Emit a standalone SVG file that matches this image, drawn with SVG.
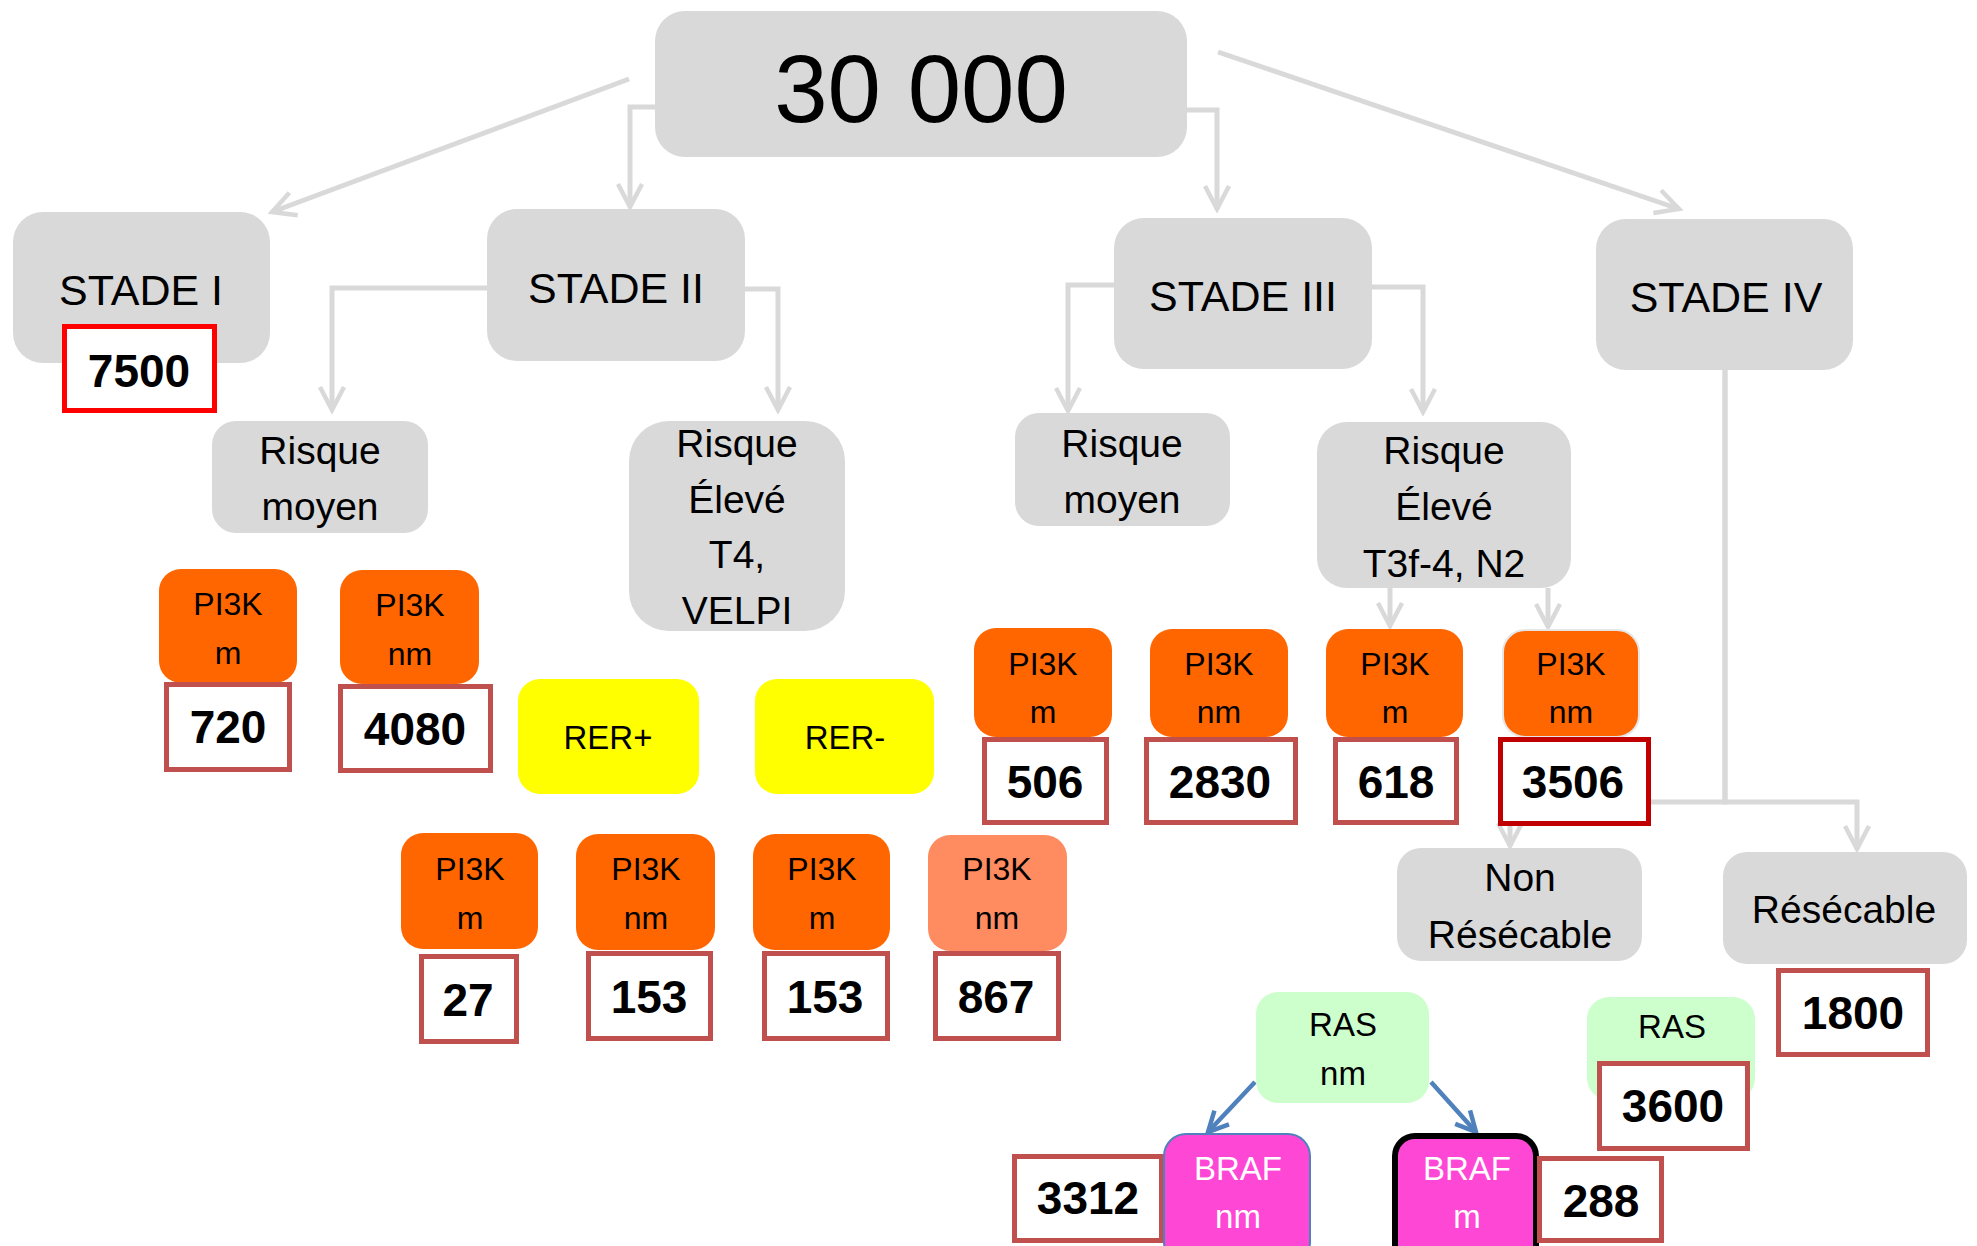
<svg xmlns="http://www.w3.org/2000/svg" width="1977" height="1246" viewBox="0 0 1977 1246">
<defs>
<style>
.t{font-family:"Liberation Sans",Arial,sans-serif;text-anchor:middle;fill:#000}
.gr{fill:#D9D9D9}
.or{fill:#FF6600}
.lo{fill:#FF8B61}
.ye{fill:#FFFF00}
.gn{fill:#CCFFCC}
.mg{fill:#FF47D6}
.nb{fill:#FFFFFF;stroke:#C0504D;stroke-width:5}
.num{font-weight:bold;font-size:46px}
.st{font-size:43px}
.rk{font-size:39px}
.pk{font-size:32px}
.sm{font-size:33px}
.wh{fill:#FFFFFF}
.cn{fill:none;stroke:#D9D9D9;stroke-width:5}
.bl{fill:none;stroke:#4F81BD;stroke-width:4.5}
</style>
<marker id="ah" viewBox="0 0 30 30" refX="26" refY="15" markerWidth="30" markerHeight="30" markerUnits="userSpaceOnUse" orient="auto">
<path d="M3,3 L26,15 L3,27" fill="none" stroke="#D9D9D9" stroke-width="4.5"/>
</marker>
<marker id="ab" viewBox="0 0 26 26" refX="23" refY="13" markerWidth="26" markerHeight="26" markerUnits="userSpaceOnUse" orient="auto">
<path d="M3,3 L23,13 L3,23" fill="none" stroke="#4F81BD" stroke-width="4.5"/>
</marker>
</defs>
<rect width="1977" height="1246" fill="#FFFFFF"/>

<g id="connectors">
<line class="cn" x1="629" y1="79" x2="272" y2="212" marker-end="url(#ah)"/>
<path class="cn" d="M655,107 H630 V207" marker-end="url(#ah)"/>
<path class="cn" d="M1187,110 H1217 V209" marker-end="url(#ah)"/>
<line class="cn" x1="1218" y1="52" x2="1679" y2="209" marker-end="url(#ah)"/>
<path class="cn" d="M487,288 H332 V410" marker-end="url(#ah)"/>
<path class="cn" d="M745,289 H778 V410" marker-end="url(#ah)"/>
<path class="cn" d="M1114,285 H1068 V411" marker-end="url(#ah)"/>
<path class="cn" d="M1372,287 H1423 V412" marker-end="url(#ah)"/>
<path class="cn" d="M1390,588 V626" marker-end="url(#ah)"/>
<path class="cn" d="M1548,588 V627" marker-end="url(#ah)"/>
<path class="cn" d="M1725,370 V802 H1510 V846" marker-end="url(#ah)"/>
<path class="cn" d="M1725,370 V802 H1857 V849" marker-end="url(#ah)"/>
<line class="bl" x1="1255" y1="1082" x2="1208" y2="1132" marker-end="url(#ab)"/>
<line class="bl" x1="1431" y1="1082" x2="1476" y2="1132" marker-end="url(#ab)"/>
</g>

<g id="n-total"><rect class="gr" x="655" y="11" width="532" height="146" rx="30"/><text class="t" x="921" y="122" font-size="96">30 000</text></g>

<g id="n-stade1"><rect class="gr" x="13" y="212" width="257" height="151" rx="30"/><text class="t st" x="141" y="305">STADE I</text></g>
<g id="n-7500"><rect x="64.5" y="326.5" width="150" height="84" fill="#FFFFFF" stroke="#FF0000" stroke-width="5"/><text class="t num" x="139" y="387">7500</text></g>

<g id="n-stade2"><rect class="gr" x="487" y="209" width="258" height="152" rx="30"/><text class="t st" x="616" y="303">STADE II</text></g>
<g id="n-stade3"><rect class="gr" x="1114" y="218" width="258" height="151" rx="30"/><text class="t st" x="1243" y="311">STADE III</text></g>
<g id="n-stade4"><rect class="gr" x="1596" y="219" width="257" height="151" rx="30"/><text class="t st" x="1726" y="312">STADE IV</text></g>

<g id="n-rm2"><rect class="gr" x="212" y="421" width="216" height="112" rx="24"/><text class="t rk" x="320" y="464">Risque</text><text class="t rk" x="320" y="520">moyen</text></g>
<g id="n-re2"><rect class="gr" x="629" y="421" width="216" height="210" rx="40"/><text class="t rk" x="737" y="457">Risque</text><text class="t rk" x="737" y="513">Élevé</text><text class="t rk" x="737" y="568">T4,</text><text class="t rk" x="737" y="624">VELPI</text></g>
<g id="n-rm3"><rect class="gr" x="1015" y="413" width="215" height="113" rx="24"/><text class="t rk" x="1122" y="457">Risque</text><text class="t rk" x="1122" y="513">moyen</text></g>
<g id="n-re3"><rect class="gr" x="1317" y="422" width="254" height="166" rx="30"/><text class="t rk" x="1444" y="464">Risque</text><text class="t rk" x="1444" y="520">Élevé</text><text class="t rk" x="1444" y="577">T3f-4, N2</text></g>

<g id="n-p1"><rect class="or" x="159" y="569" width="138" height="114" rx="22"/><text class="t pk" x="228" y="615">PI3K</text><text class="t pk" x="228" y="664">m</text></g>
<g id="n-720"><rect class="nb" x="166.5" y="684.5" width="123" height="85"/><text class="t num" x="228" y="743">720</text></g>
<g id="n-p2"><rect class="or" x="340" y="570" width="139" height="114" rx="22"/><text class="t pk" x="410" y="616">PI3K</text><text class="t pk" x="410" y="665">nm</text></g>
<g id="n-4080"><rect class="nb" x="340.5" y="686.5" width="150" height="84"/><text class="t num" x="415" y="745">4080</text></g>

<g id="n-rerp"><rect class="ye" x="518" y="679" width="181" height="115" rx="22"/><text class="t sm" x="608" y="749">RER+</text></g>
<g id="n-rerm"><rect class="ye" x="755" y="679" width="179" height="115" rx="22"/><text class="t sm" x="845" y="749">RER-</text></g>

<g id="n-p3"><rect class="or" x="974" y="628" width="138" height="109" rx="22"/><text class="t pk" x="1043" y="675">PI3K</text><text class="t pk" x="1043" y="723">m</text></g>
<g id="n-506"><rect class="nb" x="984.5" y="739.5" width="122" height="83"/><text class="t num" x="1045" y="798">506</text></g>
<g id="n-p4"><rect class="or" x="1150" y="629" width="138" height="108" rx="22"/><text class="t pk" x="1219" y="675">PI3K</text><text class="t pk" x="1219" y="723">nm</text></g>
<g id="n-2830"><rect class="nb" x="1146.5" y="739.5" width="149" height="83"/><text class="t num" x="1220" y="798">2830</text></g>
<g id="n-p5"><rect class="or" x="1326" y="629" width="137" height="108" rx="22"/><text class="t pk" x="1395" y="675">PI3K</text><text class="t pk" x="1395" y="723">m</text></g>
<g id="n-618"><rect class="nb" x="1335.5" y="739.5" width="121" height="83"/><text class="t num" x="1396" y="798">618</text></g>
<g id="n-p6"><rect class="or" x="1503" y="630" width="136" height="107" rx="22" stroke="#E6E6E6" stroke-width="2"/><text class="t pk" x="1571" y="675">PI3K</text><text class="t pk" x="1571" y="723">nm</text></g>
<g id="n-3506"><rect x="1500.5" y="739.5" width="148" height="84" fill="#FFFFFF" stroke="#C00000" stroke-width="5"/><text class="t num" x="1573" y="798">3506</text></g>

<g id="n-p7"><rect class="or" x="401" y="833" width="137" height="116" rx="22"/><text class="t pk" x="470" y="880">PI3K</text><text class="t pk" x="470" y="929">m</text></g>
<g id="n-27"><rect class="nb" x="421.5" y="956.5" width="95" height="85"/><text class="t num" x="468" y="1016">27</text></g>
<g id="n-p8"><rect class="or" x="576" y="834" width="139" height="116" rx="22"/><text class="t pk" x="646" y="880">PI3K</text><text class="t pk" x="646" y="929">nm</text></g>
<g id="n-153a"><rect class="nb" x="588.5" y="953.5" width="122" height="85"/><text class="t num" x="649" y="1013">153</text></g>
<g id="n-p9"><rect class="or" x="753" y="834" width="137" height="116" rx="22"/><text class="t pk" x="822" y="880">PI3K</text><text class="t pk" x="822" y="929">m</text></g>
<g id="n-153b"><rect class="nb" x="764.5" y="953.5" width="123" height="85"/><text class="t num" x="825" y="1013">153</text></g>
<g id="n-p10"><rect class="lo" x="928" y="835" width="139" height="116" rx="22"/><text class="t pk" x="997" y="880">PI3K</text><text class="t pk" x="997" y="929">nm</text></g>
<g id="n-867"><rect class="nb" x="935.5" y="953.5" width="123" height="85"/><text class="t num" x="996" y="1013">867</text></g>

<g id="n-nonres"><rect class="gr" x="1397" y="848" width="245" height="113" rx="24"/><text class="t rk" x="1520" y="891">Non</text><text class="t rk" x="1520" y="948">Résécable</text></g>
<g id="n-res"><rect class="gr" x="1723" y="852" width="244" height="112" rx="24"/><text class="t rk" x="1844" y="923">Résécable</text></g>
<g id="n-1800"><rect class="nb" x="1778.5" y="970.5" width="149" height="84"/><text class="t num" x="1853" y="1029">1800</text></g>

<g id="n-ras2"><rect class="gn" x="1587" y="997" width="168" height="103" rx="22"/><text class="t sm" x="1672" y="1038">RAS</text></g>
<g id="n-3600"><rect class="nb" x="1599.5" y="1063.5" width="148" height="85"/><text class="t num" x="1673" y="1122">3600</text></g>

<g id="n-ras1"><rect class="gn" x="1256" y="992" width="173" height="111" rx="22"/><text class="t sm" x="1343" y="1036">RAS</text><text class="t sm" x="1343" y="1085">nm</text></g>

<g id="n-3312"><rect class="nb" x="1014.5" y="1156.5" width="147" height="84"/><text class="t num" x="1088" y="1214">3312</text></g>
<g id="n-brafnm"><rect class="mg" x="1164" y="1134" width="146" height="130" rx="22" stroke="#4F81BD" stroke-width="2"/><text class="t sm wh" x="1238" y="1180">BRAF</text><text class="t sm wh" x="1238" y="1228">nm</text></g>
<g id="n-brafm"><rect class="mg" x="1395" y="1136" width="141" height="130" rx="20" stroke="#000000" stroke-width="6"/><text class="t sm wh" x="1467" y="1180">BRAF</text><text class="t sm wh" x="1467" y="1228">m</text></g>
<g id="n-288"><rect class="nb" x="1539.5" y="1158.5" width="122" height="82"/><text class="t num" x="1601" y="1217">288</text></g>
</svg>
